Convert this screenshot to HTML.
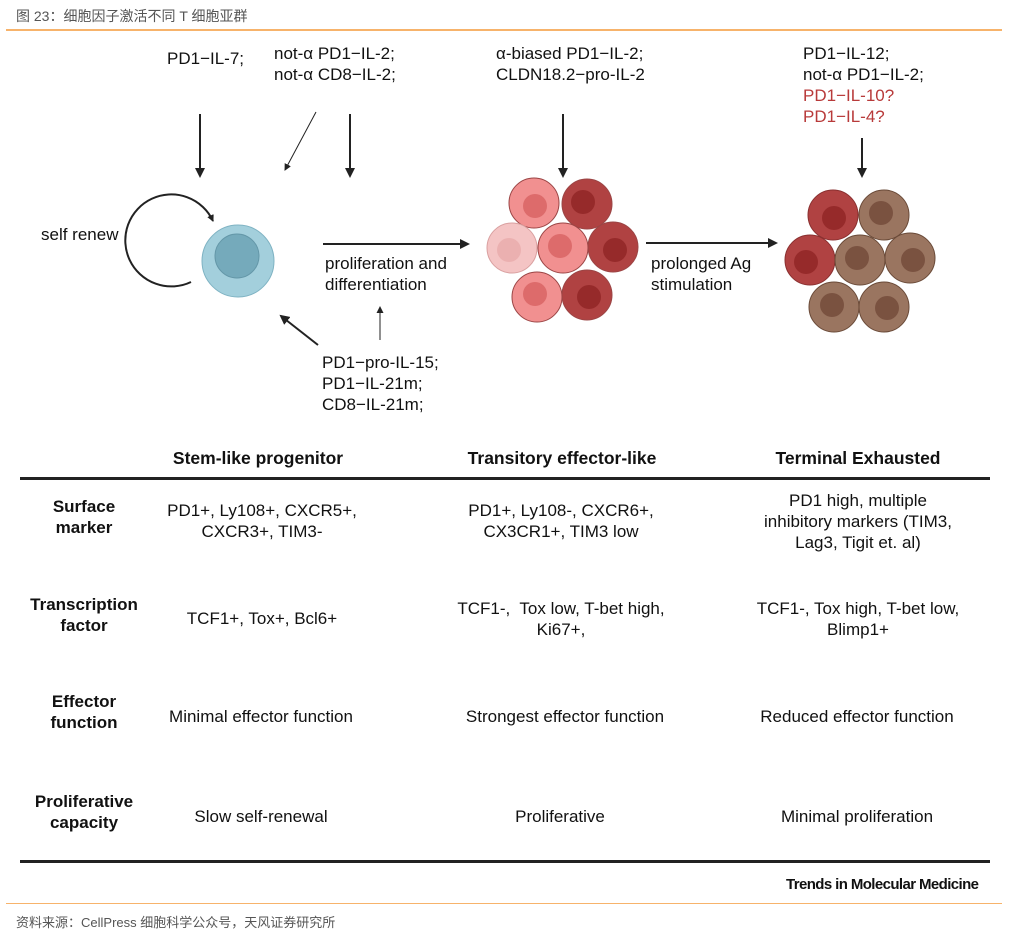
<!DOCTYPE html><html><head><meta charset="utf-8"><style>
body{margin:0;width:1009px;height:933px;background:#fff;position:relative;font-family:"Liberation Sans","Noto Sans CJK SC",sans-serif;color:#111;overflow:hidden}
.t{position:absolute;white-space:nowrap;font-size:17px;line-height:21px}
.c{text-align:center;transform:translateX(-50%)}
.b{font-weight:bold}
</style></head><body>
<div class="t" style="left:16px;top:6px;font-size:14px;color:#555">图 23：细胞因子激活不同 T 细胞亚群</div>
<div style="position:absolute;left:6px;top:29px;width:996px;height:2px;background:#f7b36b"></div>
<div style="position:absolute;left:6px;top:903px;width:996px;height:1px;background:#f7b36b"></div>
<div class="t" style="left:16px;top:912px;font-size:13px;color:#555">资料来源：CellPress 细胞科学公众号，天风证券研究所</div>

<svg width="1009" height="933" style="position:absolute;left:0;top:0">
<defs><marker id="a" markerWidth="10" markerHeight="10" refX="8" refY="5" orient="auto" markerUnits="userSpaceOnUse"><path d="M0,0L10,5L0,10z" fill="#222"/></marker>
<marker id="s" markerWidth="7" markerHeight="7" refX="6" refY="3.5" orient="auto" markerUnits="userSpaceOnUse"><path d="M0,0L7,3.5L0,7z" fill="#222"/></marker></defs>
<g stroke="#222" stroke-width="2" fill="none">
<line x1="200" y1="114" x2="200" y2="176" marker-end="url(#a)"/>
<line x1="350" y1="114" x2="350" y2="176" marker-end="url(#a)"/>
<line x1="316" y1="112" x2="285" y2="170" stroke-width="1" marker-end="url(#s)"/>
<line x1="563" y1="114" x2="563" y2="176" marker-end="url(#a)"/>
<line x1="862" y1="138" x2="862" y2="176" marker-end="url(#a)"/>
<line x1="323" y1="244" x2="468" y2="244" marker-end="url(#a)"/>
<line x1="646" y1="243" x2="776" y2="243" marker-end="url(#a)"/>
<line x1="380" y1="340" x2="380" y2="307" stroke-width="1" marker-end="url(#s)"/>
<line x1="318" y1="345" x2="281" y2="316" marker-end="url(#a)"/>
<path d="M191,282 A46,46 0 1 1 213,221" marker-end="url(#s)"/>
</g>
<circle cx="238" cy="261" r="36" fill="#a3cfdc" stroke="#7fb3c3"/>
<circle cx="237" cy="256" r="22" fill="#75aabb" stroke="#6497a8"/>
<g stroke="#9b4545" stroke-width="1">
<circle cx="534" cy="203" r="25" fill="#f19090"/><circle cx="535" cy="206" r="12" fill="#dd6b6b" stroke="none"/>
<circle cx="587" cy="204" r="25" fill="#b04242"/><circle cx="583" cy="202" r="12" fill="#962a2a" stroke="none"/>
<circle cx="512" cy="248" r="25" fill="#f4c4c4" stroke="#d9a0a0"/><circle cx="509" cy="250" r="12" fill="#ebb0b0" stroke="none"/>
<circle cx="563" cy="248" r="25" fill="#f19090"/><circle cx="560" cy="246" r="12" fill="#dd6b6b" stroke="none"/>
<circle cx="613" cy="247" r="25" fill="#b04242"/><circle cx="615" cy="250" r="12" fill="#962a2a" stroke="none"/>
<circle cx="537" cy="297" r="25" fill="#f19090"/><circle cx="535" cy="294" r="12" fill="#dd6b6b" stroke="none"/>
<circle cx="587" cy="295" r="25" fill="#b04242"/><circle cx="589" cy="297" r="12" fill="#962a2a" stroke="none"/>
</g>
<g stroke="#6a4a38" stroke-width="1">
<circle cx="833" cy="215" r="25" fill="#b04242" stroke="#8a3030"/><circle cx="834" cy="218" r="12" fill="#962a2a" stroke="none"/>
<circle cx="884" cy="215" r="25" fill="#9a7560"/><circle cx="881" cy="213" r="12" fill="#7a5240" stroke="none"/>
<circle cx="810" cy="260" r="25" fill="#b04242" stroke="#8a3030"/><circle cx="806" cy="262" r="12" fill="#962a2a" stroke="none"/>
<circle cx="860" cy="260" r="25" fill="#9a7560"/><circle cx="857" cy="258" r="12" fill="#7a5240" stroke="none"/>
<circle cx="910" cy="258" r="25" fill="#9a7560"/><circle cx="913" cy="260" r="12" fill="#7a5240" stroke="none"/>
<circle cx="834" cy="307" r="25" fill="#9a7560"/><circle cx="832" cy="305" r="12" fill="#7a5240" stroke="none"/>
<circle cx="884" cy="307" r="25" fill="#9a7560"/><circle cx="887" cy="308" r="12" fill="#7a5240" stroke="none"/>
</g>
<rect x="20" y="477" width="970" height="3" fill="#222"/>
<rect x="20" y="860" width="970" height="3" fill="#222"/>
</svg>

<div class="t" style="left:167px;top:48px">PD1−IL-7;</div>
<div class="t" style="left:274px;top:43px">not-α PD1−IL-2;<br>not-α CD8−IL-2;</div>
<div class="t" style="left:496px;top:43px">α-biased PD1−IL-2;<br>CLDN18.2−pro-IL-2</div>
<div class="t" style="left:803px;top:43px">PD1−IL-12;<br>not-α PD1−IL-2;<br><span style="color:#b83a3a">PD1−IL-10?<br>PD1−IL-4?</span></div>
<div class="t" style="left:41px;top:224px">self renew</div>
<div class="t" style="left:325px;top:253px">proliferation and<br>differentiation</div>
<div class="t" style="left:651px;top:253px">prolonged Ag<br>stimulation</div>
<div class="t" style="left:322px;top:352px">PD1−pro-IL-15;<br>PD1−IL-21m;<br>CD8−IL-21m;</div>

<div class="t b c" style="left:258px;top:448px;font-size:17.5px">Stem-like progenitor</div>
<div class="t b c" style="left:562px;top:448px;font-size:17.5px">Transitory effector-like</div>
<div class="t b c" style="left:858px;top:448px;font-size:17.5px">Terminal Exhausted</div>

<div class="t b c" style="left:84px;top:496px;text-align:center">Surface<br>marker</div>
<div class="t c" style="left:262px;top:500px">PD1+, Ly108+, CXCR5+,<br>CXCR3+, TIM3-</div>
<div class="t c" style="left:561px;top:500px">PD1+, Ly108-, CXCR6+,<br>CX3CR1+, TIM3 low</div>
<div class="t c" style="left:858px;top:490px">PD1 high, multiple<br>inhibitory markers (TIM3,<br>Lag3, Tigit et. al)</div>

<div class="t b c" style="left:84px;top:594px">Transcription<br>factor</div>
<div class="t c" style="left:262px;top:608px">TCF1+, Tox+, Bcl6+</div>
<div class="t c" style="left:561px;top:598px">TCF1-,&nbsp; Tox low, T-bet high,<br>Ki67+,</div>
<div class="t c" style="left:858px;top:598px">TCF1-, Tox high, T-bet low,<br>Blimp1+</div>

<div class="t b c" style="left:84px;top:691px">Effector<br>function</div>
<div class="t c" style="left:261px;top:706px">Minimal effector function</div>
<div class="t c" style="left:565px;top:706px">Strongest effector function</div>
<div class="t c" style="left:857px;top:706px">Reduced effector function</div>

<div class="t b c" style="left:84px;top:791px">Proliferative<br>capacity</div>
<div class="t c" style="left:261px;top:806px">Slow self-renewal</div>
<div class="t c" style="left:560px;top:806px">Proliferative</div>
<div class="t c" style="left:857px;top:806px">Minimal proliferation</div>

<div class="t b" style="left:786px;top:874px;font-size:15px;letter-spacing:-0.6px">Trends in Molecular Medicine</div>
</body></html>
